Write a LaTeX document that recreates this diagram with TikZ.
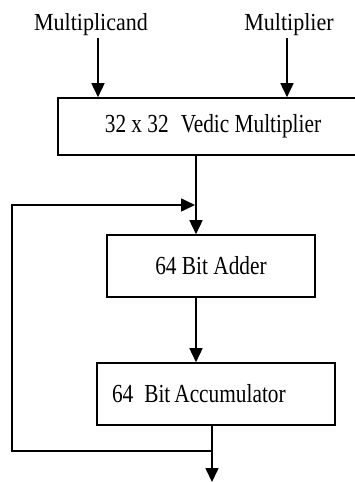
\documentclass[tikz,border=0pt]{standalone}
\usepackage{fontspec}
\setmainfont{Liberation Serif}[FakeStretch=0.9]
\newfontfamily\boxfont{Liberation Serif}[FakeStretch=0.82]
\usetikzlibrary{arrows.meta}
\tikzset{
  blk/.style={draw, line width=1.6pt, inner sep=0pt, font=\boxfont\fontsize{26}{28}\selectfont},
  lbl/.style={inner sep=0pt, font=\fontsize{24.5}{26}\selectfont},
  arr/.style={line width=1.6pt, -{Triangle[length=14pt,width=13pt]}},
  ln/.style={line width=1.6pt}
}
\begin{document}
\begin{tikzpicture}[x=1pt,y=1pt]
\useasboundingbox (0,0) rectangle (355,-482);
% labels
\node[lbl, anchor=base] (mcand) at (91,-30) {Multiplicand};
\node[lbl, anchor=base] (mplier) at (289,-30) {Multiplier};
% boxes
\node[blk, minimum width=310pt, minimum height=57pt] (vedic) at (213,-126.5) {32 x 32\hspace{12pt}Vedic Multiplier};
\node[blk, minimum width=208pt, minimum height=62pt] (adder) at (211,-266) {64 Bit Adder};
\node[blk, text width=208pt, inner xsep=15pt, align=left, minimum height=62pt] (acc) at (216,-394) {64\hspace{11pt}Bit\hspace{4pt}Accumulator};
% coordinates
\coordinate (xa) at (98,0);
\coordinate (xb) at (287,0);
\coordinate (xc) at (196,0);
\coordinate (xd) at (212,0);
\coordinate (j) at (212,-451);
\coordinate (out) at (212,-482);
\coordinate (fl) at (12,-451);
\coordinate (fb) at (195,-205);
% connectors
\draw[arr] (mcand.south -| xa) ++(0,-3) -- (vedic.north -| xa);
\draw[arr] (mplier.south -| xb) ++(0,-3) -- (vedic.north -| xb);
\draw[arr] (vedic.south -| xc) -- (adder.north -| xc);
\draw[arr] (adder.south -| xc) -- (acc.north -| xc);
\draw[arr] (acc.south -| xd) -- (out);
\draw[arr] (j) -- (fl) |- (fb);
\end{tikzpicture}
\end{document}
